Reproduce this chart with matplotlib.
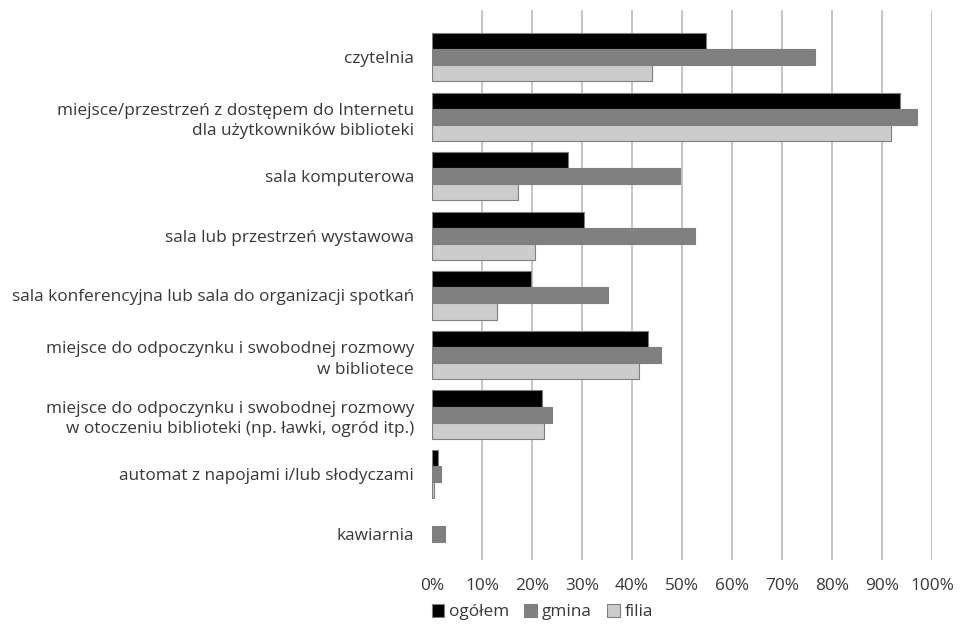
import matplotlib.pyplot as plt
import numpy as np

# categories, top to bottom
categories = [
    'czytelnia',
    'miejsce/przestrzeń z dostępem do Internetu\ndla użytkowników biblioteki',
    'sala komputerowa',
    'sala lub przestrzeń wystawowa',
    'sala konferencyjna lub sala do organizacji spotkań',
    'miejsce do odpoczynku i swobodnej rozmowy\nw bibliotece',
    'miejsce do odpoczynku i swobodnej rozmowy\nw otoczeniu biblioteki (np. ławki, ogród itp.)',
    'automat z napojami i/lub słodyczami',
    'kawiarnia',
]
series_names = ['ogółem', 'gmina', 'filia']
ogolem = [54.7, 93.5, 27.2, 30.3, 19.7, 43.1, 21.9, 1.2, 0]
gmina = [76.5, 96.9, 49.6, 52.5, 35.2, 45.8, 24.0, 1.7, 2.5]
filia = [43.9, 91.8, 17.1, 20.6, 12.9, 41.3, 22.3, 0.4, 0]
x_ticks = list(range(0, 101, 10))

plt.rcParams['font.family'] = ['Open Sans', 'DejaVu Sans']
text_color = '#383838'
fs = 12.4

fig = plt.figure(figsize=(9.66, 6.27), dpi=100)
ax = fig.add_axes([432 / 966, 1 - 560 / 627, 500 / 966, 550 / 627])

y = np.arange(len(categories))
h = 0.27
colors = ['#000000', '#808080', '#cccccc']
for k, (vals, name, col) in enumerate(zip([ogolem, gmina, filia], series_names, colors)):
    bars = ax.barh(y + (k - 1) * h, vals, height=h, color=col, edgecolor='#7f7f7f',
                   linewidth=0.8, label=name, zorder=3)
    for b, v in zip(bars, vals):
        if v == 0:
            b.set_visible(False)

ax.set_xlim(0, 100)
ax.set_ylim(8.44, -0.79)
ax.set_xticks(x_ticks)
ax.set_xticklabels([f'{t}%' for t in x_ticks])
ax.set_yticks(y)
ax.set_yticklabels(categories, linespacing=1.38)
ax.tick_params(axis='both', length=0, labelsize=fs, colors=text_color)
ax.tick_params(axis='y', pad=13)
ax.tick_params(axis='x', pad=13)
for lbl in ax.get_yticklabels():
    lbl.set_horizontalalignment('right')
    lbl.set_multialignment('right')

ax.grid(axis='x', color='#bfbfbf', linewidth=1.3, zorder=0)
ax.get_xgridlines()[0].set_visible(False)
ax.set_axisbelow(True)
for s in ax.spines.values():
    s.set_visible(False)

leg = fig.legend(loc='lower left', bbox_to_anchor=(416 / 966, -0.014), ncol=3,
                 frameon=False, fontsize=fs, handlelength=0.75, handleheight=0.75,
                 handletextpad=0.25, columnspacing=0.9, labelcolor=text_color)

fig.savefig('out.png', dpi=100)
